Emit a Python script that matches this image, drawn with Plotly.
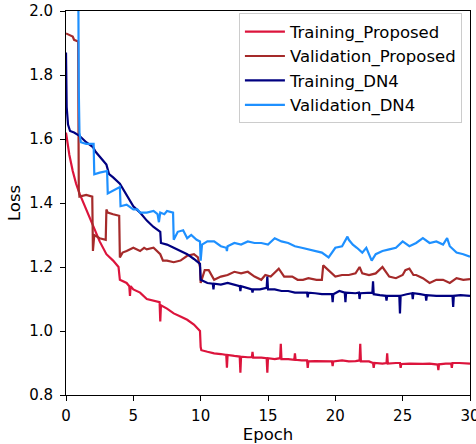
import plotly.graph_objects as go

# ---------------- data ----------------
tp_epoch = [0, 0.25, 0.5, 0.75, 1.0, 1.5, 2.0, 2.5, 3.0, 3.5, 3.9, 4.0, 4.5, 4.7, 4.75, 4.8, 5.0, 5.5, 6.0, 6.5, 6.95, 7.0, 7.05,
            7.5, 8.0, 8.5, 9.0, 9.5, 9.95, 10.0, 10.05, 10.5, 11.0, 11.5, 11.9, 11.95, 12.0, 12.5, 12.9, 12.95, 13.0, 13.5,
            13.8, 13.85, 13.9, 14.5, 14.9, 14.95, 15.0, 15.5, 15.9, 15.95, 16.0, 16.5, 16.95, 17.0, 17.05, 17.5, 17.9,
            17.95, 18.0, 18.5, 19.0, 19.5, 19.75, 19.8, 19.85, 20.5, 21.0, 21.5, 21.8, 21.85, 21.9, 22.5, 22.8, 22.85,
            22.9, 23.5, 23.8, 23.85, 23.9, 24.5, 24.8, 24.85, 24.9, 25.5, 26.0, 26.5, 27.0, 27.5, 27.6, 27.65, 27.7,
            28.2, 28.6, 28.65, 28.7, 29.2, 29.6, 30.0]
tp_loss = [1.62, 1.55, 1.50, 1.46, 1.43, 1.38, 1.33, 1.28, 1.24, 1.22, 1.20, 1.16, 1.15, 1.14, 1.11, 1.14, 1.13, 1.12, 1.10, 1.095, 1.09, 1.03, 1.08,
           1.07, 1.055, 1.045, 1.035, 1.02, 1.00, 0.95, 0.94, 0.935, 0.93, 0.928, 0.925, 0.885, 0.925, 0.922, 0.92, 0.87, 0.92, 0.918,
           0.918, 0.935, 0.917, 0.917, 0.915, 0.87, 0.915, 0.912, 0.915, 0.96, 0.912, 0.912, 0.91, 0.93, 0.91, 0.908, 0.908,
           0.885, 0.905, 0.906, 0.905, 0.906, 0.905, 0.89, 0.905, 0.908, 0.905, 0.906, 0.908, 0.96, 0.905, 0.905, 0.9, 0.885,
           0.9, 0.898, 0.9, 0.93, 0.898, 0.9, 0.9, 0.885, 0.897, 0.898, 0.897, 0.897, 0.898, 0.895, 0.895, 0.878, 0.896,
           0.898, 0.898, 0.885, 0.9, 0.9, 0.899, 0.898]

vp_epoch = [0, 0.3, 0.5, 0.6, 0.9, 0.95, 1.0, 1.5, 1.95, 2.0, 2.1, 2.5, 2.95, 3.0, 3.1, 3.5, 3.95, 4.0, 4.2, 4.5, 5.0, 5.5,
            5.8, 6.0, 6.5, 7.0, 7.2, 7.5, 8.0, 8.5, 9.0, 9.5, 9.8, 9.95, 10.0, 10.3, 10.6, 11.0, 11.5, 12.0, 12.5, 13.0,
            13.5, 14.0, 14.5, 14.8, 15.2, 15.8, 16.2, 16.8, 17.2, 17.6, 18.0, 18.6, 19.0, 19.1, 19.5, 20.0, 20.5, 21.0,
            21.5, 21.8, 22.0, 22.5, 23.0, 23.5, 24.0, 24.5, 25.0, 25.2, 25.5, 25.8, 26.0, 26.5, 27.0, 27.5, 28.0, 28.5,
            29.0, 29.5, 30.0]
vp_loss = [1.93, 1.925, 1.92, 1.91, 1.905, 1.44, 1.42, 1.425, 1.42, 1.25, 1.30, 1.29, 1.285, 1.38, 1.37, 1.365, 1.36, 1.23, 1.245, 1.25, 1.26, 1.25,
           1.26, 1.255, 1.26, 1.24, 1.22, 1.22, 1.215, 1.22, 1.235, 1.24, 1.23, 1.20, 1.15, 1.19, 1.19, 1.16, 1.17, 1.175, 1.185, 1.18,
           1.185, 1.17, 1.16, 1.175, 1.17, 1.195, 1.17, 1.17, 1.16, 1.16, 1.165, 1.16, 1.16, 1.205, 1.19, 1.17, 1.175, 1.175,
           1.18, 1.20, 1.18, 1.175, 1.18, 1.20, 1.17, 1.165, 1.175, 1.19, 1.195, 1.175, 1.175, 1.165, 1.15, 1.16, 1.16, 1.15,
           1.165, 1.16, 1.162]

td_epoch = [0, 0.05, 0.15, 0.3, 0.6, 1.0, 1.5, 2.0, 2.2, 2.5, 3.0, 3.2, 3.5, 4.0, 4.3, 4.7, 5.0, 5.5, 6.0, 6.5, 7.0, 7.05,
            7.5, 8.0, 8.5, 9.0, 9.5, 9.95, 10.0, 10.5, 10.9, 10.95, 11.0, 11.5, 12.0, 12.9, 12.95, 13.0, 13.8, 13.85, 13.9,
            14.4, 14.9, 14.95, 15.0, 15.5, 16.0, 16.5, 17.0, 17.9, 17.95, 18.0, 18.5, 19.0, 19.75, 19.8, 19.85, 20.3, 20.7,
            20.75, 20.8, 21.5, 21.75, 21.8, 21.85, 22.3, 22.75, 22.8, 22.85, 23.3, 23.75, 23.8, 23.85, 24.3, 24.75, 24.8,
            24.85, 25.3, 25.7, 25.75, 25.8, 26.3, 26.7, 26.75, 26.8, 27.5, 28.0, 28.7, 28.75, 28.8, 29.3, 30.0]
td_loss = [1.87, 1.70, 1.645, 1.625, 1.62, 1.61, 1.59, 1.575, 1.56, 1.545, 1.52, 1.49, 1.48, 1.46, 1.44, 1.41, 1.39, 1.37, 1.345, 1.325, 1.31, 1.275,
           1.27, 1.26, 1.25, 1.24, 1.225, 1.21, 1.16, 1.15, 1.148, 1.13, 1.148, 1.145, 1.15, 1.14, 1.125, 1.14, 1.13, 1.12, 1.13,
           1.13, 1.135, 1.17, 1.13, 1.13, 1.125, 1.125, 1.12, 1.12, 1.105, 1.12, 1.118, 1.115, 1.115, 1.09, 1.115, 1.125, 1.12,
           1.09, 1.12, 1.118, 1.12, 1.10, 1.118, 1.12, 1.12, 1.155, 1.115, 1.112, 1.11, 1.095, 1.11, 1.11, 1.11, 1.055,
           1.11, 1.115, 1.118, 1.10, 1.118, 1.115, 1.112, 1.095, 1.112, 1.11, 1.11, 1.11, 1.075, 1.11, 1.112, 1.11]

vd_epoch = [0, 0.9, 0.95, 1.0, 1.1, 1.5, 2.05, 2.1, 2.5, 3.05, 3.1, 3.5, 4.0, 4.05, 4.5, 5.0, 5.3, 5.5, 6.0, 6.5, 6.8, 6.9,
            7.0, 7.3, 7.5, 7.95, 8.0, 8.3, 8.7, 9.0, 9.3, 9.7, 9.95, 10.0, 10.1, 10.5, 11.0, 11.5, 11.9, 11.95, 12.0, 12.5,
            13.0, 13.5, 14.0, 14.5, 15.0, 15.5, 16.0, 16.5, 17.0, 17.5, 18.0, 18.5, 19.0, 19.5, 20.0, 20.5, 20.9, 21.0,
            21.3, 21.6, 22.0, 22.3, 22.7, 23.0, 23.5, 24.0, 24.5, 25.0, 25.5, 26.0, 26.5, 27.0, 27.5, 28.0, 28.3, 28.5,
            29.0, 29.5, 30.0]
vd_loss = [2.25, 2.2, 1.75, 1.62, 1.59, 1.585, 1.585, 1.49, 1.495, 1.50, 1.43, 1.44, 1.45, 1.39, 1.395, 1.38, 1.38, 1.37, 1.37, 1.375, 1.365, 1.34,
           1.37, 1.365, 1.375, 1.37, 1.285, 1.31, 1.315, 1.29, 1.30, 1.285, 1.28, 1.22, 1.27, 1.28, 1.28, 1.265, 1.26, 1.25, 1.265, 1.275,
           1.27, 1.28, 1.275, 1.275, 1.27, 1.29, 1.28, 1.275, 1.265, 1.26, 1.255, 1.25, 1.245, 1.23, 1.26, 1.265, 1.295, 1.285,
           1.27, 1.26, 1.245, 1.26, 1.22, 1.24, 1.25, 1.255, 1.26, 1.28, 1.265, 1.275, 1.29, 1.275, 1.28, 1.27, 1.29, 1.265,
           1.245, 1.24, 1.232]

series_names = ["Training_Proposed", "Validation_Proposed", "Training_DN4", "Validation_DN4"]
series_colors = ["#DC143C", "#A52A2A", "#000080", "#1E90FF"]
series_x = [tp_epoch, vp_epoch, td_epoch, vd_epoch]
series_y = [tp_loss, vp_loss, td_loss, vd_loss]

x_ticks = [0, 5, 10, 15, 20, 25, 30]
y_ticks = [0.8, 1.0, 1.2, 1.4, 1.6, 1.8, 2.0]

# ---------------- figure ----------------
fig = go.Figure()
for name, color, xs, ys in zip(series_names, series_colors, series_x, series_y):
    fig.add_trace(go.Scatter(x=xs, y=ys, mode="lines", name=name,
                             line=dict(color=color, width=2.2)))

font_family = "DejaVu Sans"
fig.update_layout(
    width=476, height=444,
    margin=dict(l=66, r=6, t=11, b=49, autoexpand=False),
    paper_bgcolor="white", plot_bgcolor="white",
    font=dict(family=font_family, size=15, color="black"),
    showlegend=True,
    legend=dict(x=0.98, y=0.994, xanchor="right", yanchor="top",
                bgcolor="rgba(255,255,255,0.8)", bordercolor="#CCCCCC", borderwidth=1,
                font=dict(family=font_family, size=16.5), tracegroupgap=0,
                itemwidth=40),
)
fig.update_xaxes(range=[0, 30], tickvals=x_ticks, ticks="outside", ticklen=5, tickwidth=1,
                 tickcolor="black", showline=True, linecolor="black", linewidth=1, mirror=True,
                 showgrid=False, zeroline=False, automargin=False, ticklabeloverflow="allow",
                 title=dict(text="Epoch", standoff=3, font=dict(size=16.5)),
                 tickfont=dict(size=15), ticklabelstandoff=2)
fig.update_yaxes(range=[0.8, 2.0], tickvals=y_ticks, tickformat=".1f", ticks="outside", ticklen=5,
                 tickwidth=1, tickcolor="black", showline=True, linecolor="black", linewidth=1,
                 mirror=True, showgrid=False, zeroline=False, automargin=False, ticklabeloverflow="allow",
                 title=dict(text="Loss", standoff=4, font=dict(size=16.5)),
                 tickfont=dict(size=15), ticklabelstandoff=4)

fig.write_html("out.html", config={"displayModeBar": False},
               post_script="document.body.style.margin='0';")
